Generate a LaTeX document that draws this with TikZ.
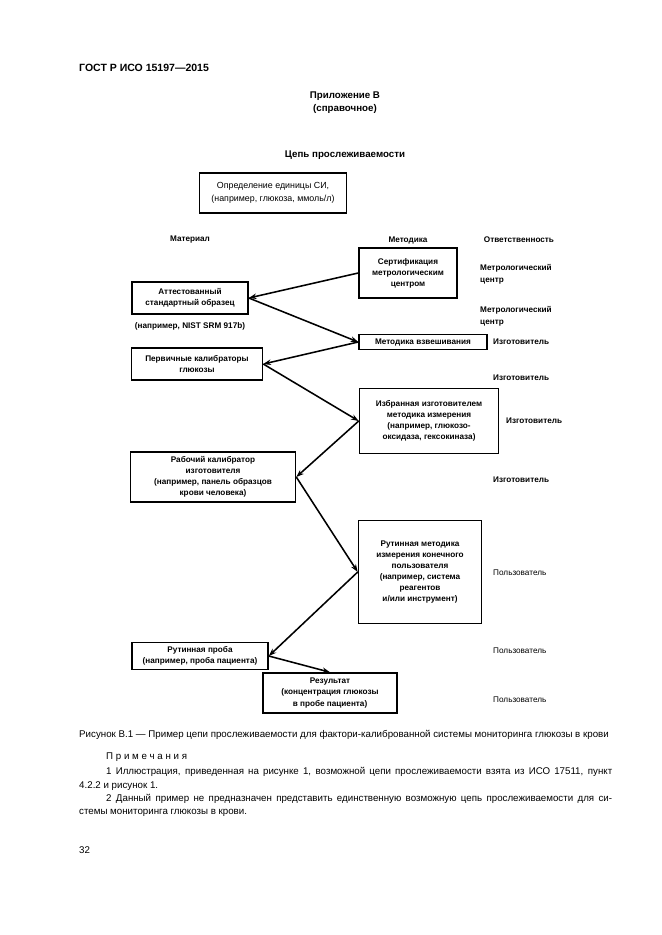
\documentclass[tikz,border=0pt]{standalone}
\usepackage{fontspec}
\setmainfont{Liberation Sans}
\usetikzlibrary{arrows.meta, positioning}
\newlength\pxu
\setlength\pxu{0.03177cm}
\tikzset{
  chainbox/.style={rectangle, draw=black, line width=1.4pt, align=center,
    inner sep=1pt, font=\fontsize{7.4}{10}\selectfont\bfseries},
  sibox/.style={chainbox, font=\fontsize{8}{12}\selectfont},
  chainarrow/.style={-{Stealth[length=7pt,width=5pt]}, line width=1.4pt},
  colhead/.style={font=\fontsize{7.4}{9}\selectfont\bfseries},
  resp/.style={anchor=west, align=left, inner sep=0pt,
    font=\fontsize{7.4}{10.5}\selectfont\bfseries},
  userresp/.style={resp, font=\fontsize{7.4}{10}\selectfont},
  pagetext/.style={anchor=west, inner sep=0pt, font=\fontsize{8.8}{11}\selectfont},
  titletext/.style={inner sep=0pt, font=\fontsize{8.8}{11.5}\selectfont\bfseries, align=center}
}

\begin{document}
\begin{tikzpicture}[x=\pxu, y=-\pxu]
  \useasboundingbox[fill=white] (0,0) rectangle (661,935);

  % ── Page head ─────────────────────────────────────────────────────────────
  \node[pagetext, font=\fontsize{9.5}{11}\selectfont\bfseries] (gost) at (79,68) {ГОСТ Р ИСО 15197—2015};
  \node[titletext] (annex) at (345,103) {Приложение В\\(справочное)};
  \node[titletext] (title) at (345,155) {Цепь прослеживаемости};

  % ── Chain boxes ───────────────────────────────────────────────────────────
  \node[sibox, minimum width=147\pxu, minimum height=40\pxu] (si) at (273,193)
    {Определение единицы СИ,\\(например, глюкоза, ммоль/л)};
  \node[chainbox, minimum width=98\pxu, minimum height=50\pxu] (cert) at (408,273)
    {Сертификация\\метрологическим\\центром};
  \node[chainbox, minimum width=116\pxu, minimum height=32\pxu] (crm) at (190,298)
    {Аттестованный\\стандартный образец};
  \node[chainbox, minimum width=128\pxu, minimum height=15\pxu] (weigh) at (423,342)
    {Методика взвешивания};
  \node[chainbox, minimum width=131\pxu, minimum height=32\pxu] (primary) at (197,364)
    {Первичные калибраторы\\глюкозы};
  \node[chainbox, minimum width=139\pxu, minimum height=65\pxu] (mfgproc) at (429,421)
    {Избранная изготовителем\\методика измерения\\(например, глюкозо-\\оксидаза, гексокиназа)};
  \node[chainbox, minimum width=165\pxu, minimum height=50\pxu] (workcal) at (213,477)
    {Рабочий калибратор\\изготовителя\\(например, панель образцов\\крови человека)};
  \node[chainbox, minimum width=123\pxu, minimum height=103\pxu] (userproc) at (420,572)
    {Рутинная методика\\измерения конечного\\пользователя\\(например, система\\реагентов\\и/или инструмент)};
  \node[chainbox, minimum width=136\pxu, minimum height=27\pxu] (sample) at (200,656)
    {Рутинная проба\\(например, проба пациента)};
  \node[chainbox, minimum width=134\pxu, minimum height=40\pxu] (result) at (330,693)
    {Результат\\(концентрация глюкозы\\в пробе пациента)};
  \node[colhead, below=4\pxu of crm] (nist) {(например, NIST SRM 917b)};

  % ── Column heads ──────────────────────────────────────────────────────────
  \node[colhead] (hmat) at (190,240) {Материал};
  \node[colhead] (hproc) at (408,240) {Методика};
  \node[colhead, anchor=west] (hresp) at (480,240) {Ответственность};

  % ── Responsibility ────────────────────────────────────────────────────────
  \node[resp] (r1) at (480,274) {Метрологический\\центр};
  \node[resp] (r2) at (480,316) {Метрологический\\центр};
  \node[resp] (r3) at (493,342) {Изготовитель};
  \node[resp] (r4) at (493,378) {Изготовитель};
  \node[resp] (r5) at (506,421) {Изготовитель};
  \node[resp] (r6) at (493,480) {Изготовитель};
  \node[userresp] (r7) at (493,573) {Пользователь};
  \node[userresp] (r8) at (493,651) {Пользователь};
  \node[userresp] (r9) at (493,700) {Пользователь};

  % ── Chain arrows ──────────────────────────────────────────────────────────
  \draw[chainarrow] (cert.west)     -- (crm.east);
  \draw[chainarrow] (crm.east)      -- (weigh.west);
  \draw[chainarrow] (weigh.west)    -- (primary.east);
  \draw[chainarrow] (primary.east)  -- (mfgproc.west);
  \draw[chainarrow] (mfgproc.west)  -- (workcal.east);
  \draw[chainarrow] (workcal.east)  -- (userproc.west);
  \draw[chainarrow] (userproc.west) -- (sample.east);
  \draw[chainarrow] (sample.east)   -- (result.north);

  % ── Caption and notes ─────────────────────────────────────────────────────
  \node[pagetext] (cap) at (79,735) {Рисунок В.1 — Пример цепи прослеживаемости для фактори-калиброванной системы мониторинга глюкозы в крови};
  \node[pagetext] (notes) at (106,757) {П р и м е ч а н и я};
  \node[pagetext] (n1a) at (106,772) {\makebox[506\pxu][s]{1 Иллюстрация, приведенная на рисунке 1, возможной цепи прослеживаемости взята из ИСО 17511, пункт}};
  \node[pagetext] (n1b) at (79,786) {4.2.2 и рисунок 1.};
  \node[pagetext] (n2a) at (106,799) {\makebox[506\pxu][s]{2 Данный пример не предназначен представить единственную возможную цепь прослеживаемости для си-}};
  \node[pagetext] (n2b) at (79,813) {стемы мониторинга глюкозы в крови.};
  \node[pagetext] (page) at (79,850) {32};
\end{tikzpicture}
\end{document}
